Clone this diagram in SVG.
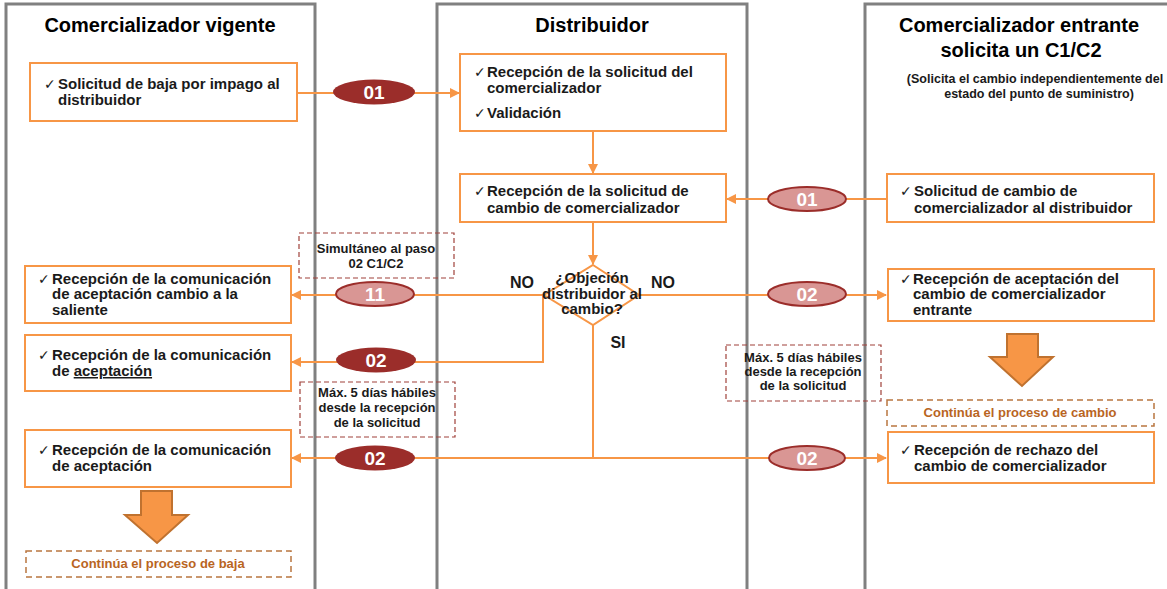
<svg xmlns="http://www.w3.org/2000/svg" width="1167" height="589" viewBox="0 0 1167 589">
<defs>
<marker id="ah" viewBox="0 0 10 10" refX="9" refY="5" markerWidth="5" markerHeight="5" orient="auto" markerUnits="strokeWidth">
<path d="M0,0 L10,5 L0,10 z" fill="#F79646"/>
</marker>
<style>
.lane{fill:#fff;stroke:#808080;stroke-width:3}
.box{fill:#fff;stroke:#F79646;stroke-width:2}
.t{font-family:"Liberation Sans",Arial,sans-serif;font-weight:bold;font-size:15px;fill:#1a1a1a}
.ttl{font-family:"Liberation Sans",Arial,sans-serif;font-weight:bold;font-size:20px;fill:#000;text-anchor:middle}
.sub{font-family:"Liberation Sans",Arial,sans-serif;font-weight:bold;font-size:12.5px;fill:#1a1a1a;text-anchor:middle}
.ck{font-family:"DejaVu Sans",sans-serif;font-weight:normal;font-size:14px}
.note{fill:none;stroke:#A0413A;stroke-width:1.2;stroke-dasharray:5,3}
.nt{font-family:"Liberation Sans",Arial,sans-serif;font-weight:bold;font-size:13px;fill:#1a1a1a;text-anchor:middle}
.cont{fill:#fff;stroke:#B9753F;stroke-width:1.5;stroke-dasharray:6,4}
.ct{font-family:"Liberation Sans",Arial,sans-serif;font-weight:bold;font-size:13px;fill:#B9651F;text-anchor:middle}
.ln{fill:none;stroke:#F79646;stroke-width:2}
.dk{fill:#9B2D2A}
.lt{fill:#D99694;stroke:#9B2D2A;stroke-width:2}
.bt{font-family:"Liberation Sans",Arial,sans-serif;font-weight:bold;font-size:19px;fill:#fff;text-anchor:middle}
.big{fill:#F79646;stroke:#C0722F;stroke-width:2}
.lbl{font-family:"Liberation Sans",Arial,sans-serif;font-weight:bold;font-size:16px;fill:#1a1a1a;text-anchor:middle}
</style>
</defs>
<rect width="1167" height="589" fill="#fff"/>
<g id="lanes">
<rect class="lane" x="6" y="4" width="309" height="600"/>
<rect class="lane" x="437" y="4" width="310" height="600"/>
<rect class="lane" x="865" y="4" width="320" height="600"/>
<text class="ttl" x="160" y="32">Comercializador vigente</text>
<text class="ttl" x="592" y="32">Distribuidor</text>
<text class="ttl" x="1019" y="32">Comercializador entrante</text>
<text class="ttl" x="1021" y="57">solicita un C1/C2</text>
<text class="sub" x="1035" y="83">(Solicita el cambio independientemente del</text>
<text class="sub" x="1039" y="98">estado del punto de suministro)</text>
</g>
<g id="connectors">
<line class="ln" x1="297" y1="93" x2="459" y2="93" marker-end="url(#ah)"/>
<line class="ln" x1="593" y1="131" x2="593" y2="173" marker-end="url(#ah)"/>
<line class="ln" x1="887" y1="199" x2="727" y2="199" marker-end="url(#ah)"/>
<line class="ln" x1="593" y1="222" x2="593" y2="264" marker-end="url(#ah)"/>
<line class="ln" x1="544" y1="295" x2="292" y2="295" marker-end="url(#ah)"/>
<polyline class="ln" points="543,295 543,362 292,362" marker-end="url(#ah)"/>
<line class="ln" x1="640" y1="295" x2="886" y2="295" marker-end="url(#ah)"/>
<line class="ln" x1="593" y1="325" x2="593" y2="458"/>
<line class="ln" x1="593" y1="458" x2="292" y2="458" marker-end="url(#ah)"/>
<line class="ln" x1="593" y1="458" x2="886" y2="458" marker-end="url(#ah)"/>
<g id="badges">
<ellipse class="dk" cx="374" cy="92" rx="41" ry="12.5"/><text class="bt" x="374" y="99">01</text>
<ellipse class="lt" cx="807" cy="199" rx="39" ry="12"/><text class="bt" x="807" y="206">01</text>
<ellipse class="lt" cx="375" cy="294" rx="39" ry="12"/><text class="bt" x="375" y="301">11</text>
<ellipse class="dk" cx="376" cy="360" rx="40" ry="12.5"/><text class="bt" x="376" y="367">02</text>
<ellipse class="lt" cx="807" cy="294" rx="39" ry="12"/><text class="bt" x="807" y="301">02</text>
<ellipse class="dk" cx="375" cy="458" rx="40" ry="12.5"/><text class="bt" x="375" y="465">02</text>
<ellipse class="lt" cx="807" cy="458" rx="38" ry="12"/><text class="bt" x="807" y="465">02</text>
</g>
<text class="lbl" x="522" y="288">NO</text>
<text class="lbl" x="663" y="288">NO</text>
<text class="lbl" x="618" y="348">SI</text>
</g>
<g id="n-baja">
<rect class="box" x="30" y="63" width="267" height="58"/>
<text class="t" x="44" y="89"><tspan class="ck">✓</tspan><tspan x="58">Solicitud de baja por impago al</tspan><tspan x="58" y="105">distribuidor</tspan></text>
</g>
<g id="n-recepcion-validacion">
<rect class="box" x="460" y="54" width="266" height="77"/>
<text class="t" x="474" y="77"><tspan class="ck">✓</tspan><tspan x="487">Recepción de la solicitud del</tspan><tspan x="487" y="93">comercializador</tspan></text>
<text class="t" x="474" y="118"><tspan class="ck">✓</tspan><tspan x="487">Validación</tspan></text>
</g>
<g id="n-recepcion-cambio">
<rect class="box" x="460" y="174" width="266" height="48"/>
<text class="t" x="474" y="196"><tspan class="ck">✓</tspan><tspan x="487">Recepción de la solicitud de</tspan><tspan x="487" y="213">cambio de comercializador</tspan></text>
</g>
<g id="n-solicitud-cambio">
<rect class="box" x="887" y="174" width="267" height="48"/>
<text class="t" x="900" y="196"><tspan class="ck">✓</tspan><tspan x="914">Solicitud de cambio de</tspan><tspan x="914" y="213">comercializador al distribuidor</tspan></text>
</g>
<g id="n-simultaneo">
<rect class="note" x="299" y="233" width="155" height="45"/>
<text class="nt" x="376" y="253">Simultáneo al paso</text>
<text class="nt" x="376" y="268">02 C1/C2</text>
</g>
<g id="n-decision">
<polygon points="593,265 639,295 593,325 544,295" fill="#fff" stroke="#F79646" stroke-width="2"/>
<text class="lbl" x="592" y="283" style="font-size:15px">¿Objeción</text>
<text class="lbl" x="592" y="299" style="font-size:15px">distribuidor al</text>
<text class="lbl" x="592" y="314" style="font-size:15px">cambio?</text>
</g>
<g id="n-saliente">
<rect class="box" x="25" y="266" width="266" height="57"/>
<text class="t" x="38" y="284"><tspan class="ck">✓</tspan><tspan x="52">Recepción de la comunicación</tspan><tspan x="52" y="299">de aceptación cambio a la</tspan><tspan x="52" y="315">saliente</tspan></text>
</g>
<g id="n-aceptacion1">
<rect class="box" x="25" y="335" width="266" height="56"/>
<text class="t" x="38" y="360"><tspan class="ck">✓</tspan><tspan x="52">Recepción de la comunicación</tspan><tspan x="52" y="376">de <tspan text-decoration="underline">aceptación</tspan></tspan></text>
</g>
<g id="n-max-left">
<rect class="note" x="300" y="382" width="155" height="55"/>
<text class="nt" x="377" y="397">Máx. 5 días hábiles</text>
<text class="nt" x="377" y="412">desde la recepción</text>
<text class="nt" x="377" y="427">de la solicitud</text>
</g>
<g id="n-aceptacion2">
<rect class="box" x="25" y="430" width="266" height="57"/>
<text class="t" x="38" y="455"><tspan class="ck">✓</tspan><tspan x="52">Recepción de la comunicación</tspan><tspan x="52" y="471">de aceptación</tspan></text>
</g>
<g id="n-baja-arrow">
<polygon class="big" points="141,491 172,491 172,515 188,515 157,543 125,515 141,515"/>
</g>
<g id="n-cont-baja">
<rect class="cont" x="26" y="551" width="265" height="26"/>
<text class="ct" x="158" y="568">Continúa el proceso de baja</text>
</g>
<g id="n-aceptacion-entrante">
<rect class="box" x="888" y="269" width="266" height="52"/>
<text class="t" x="900" y="284"><tspan class="ck">✓</tspan><tspan x="913">Recepción de aceptación del</tspan><tspan x="913" y="299">cambio de comercializador</tspan><tspan x="913" y="315">entrante</tspan></text>
</g>
<g id="n-max-right">
<rect class="note" x="726" y="345" width="155" height="56"/>
<text class="nt" x="803" y="362">Máx. 5 días hábiles</text>
<text class="nt" x="803" y="376">desde la recepción</text>
<text class="nt" x="803" y="390">de la solicitud</text>
</g>
<g id="n-cambio-arrow">
<polygon class="big" points="1007,334 1038,334 1038,357 1053,357 1022,386 990,357 1007,357"/>
</g>
<g id="n-cont-cambio">
<rect class="cont" x="887" y="400" width="267" height="26"/>
<text class="ct" x="1020" y="417">Continúa el proceso de cambio</text>
</g>
<g id="n-rechazo">
<rect class="box" x="888" y="432" width="266" height="51"/>
<text class="t" x="900" y="455"><tspan class="ck">✓</tspan><tspan x="914">Recepción de rechazo del</tspan><tspan x="914" y="471">cambio de comercializador</tspan></text>
</g>
</svg>
